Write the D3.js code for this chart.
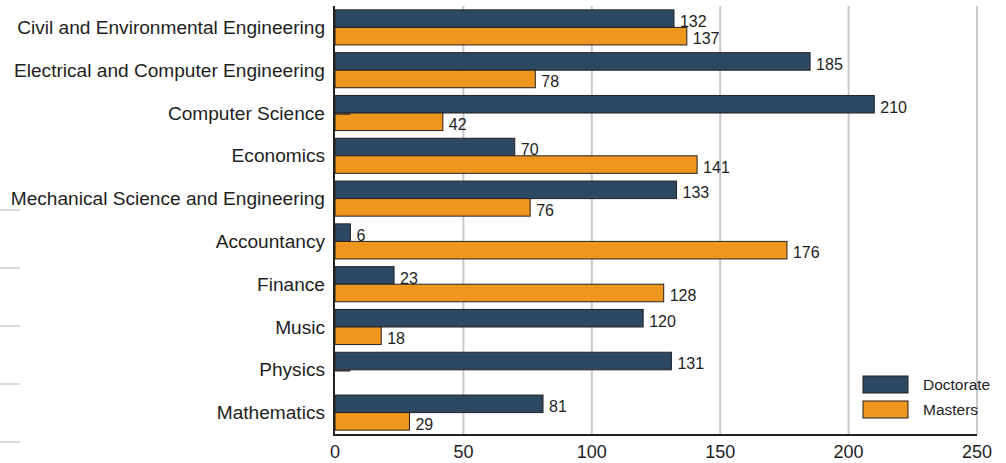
<!DOCTYPE html>
<html>
<head>
<meta charset="utf-8">
<script src="https://cdn.jsdelivr.net/npm/d3@7/dist/d3.min.js"></script>
<style>
  html, body { margin: 0; padding: 0; background: #fff; }
  svg { display: block; font-family: "Liberation Sans", Arial, sans-serif; }
</style>
</head>
<body>
<svg id="chart" width="1006" height="463"></svg>
<script>
const categories = [
  "Civil and Environmental Engineering",
  "Electrical and Computer Engineering",
  "Computer Science",
  "Economics",
  "Mechanical Science and Engineering",
  "Accountancy",
  "Finance",
  "Music",
  "Physics",
  "Mathematics"
];
const doctorate = [132, 185, 210, 70, 133, 6, 23, 120, 131, 81];
const masters   = [137, 78, 42, 141, 76, 176, 128, 18, 0, 29];
const seriesNames = ["Doctorate", "Masters"];
const xTicks = [0, 50, 100, 150, 200, 250];
// stray short strokes visible in the reference (category, length in data units)
const strayCats = ["Computer Science", "Physics"];
const strayLen = 6;

(function () {
const colors = ["#2d4862", "#ef961f"];
const pLeft = 335, pRight = 977, pTop = 6, pBottom = 434;

const svg = d3.select("#chart");

const x = d3.scaleLinear().domain([0, 250]).range([pLeft, pRight]);
const y = d3.scaleBand().domain(categories).range([pTop, pBottom])
  .paddingInner(0.18).paddingOuter(0.09);
const sub = d3.scaleBand().domain(seriesNames).range([0, y.bandwidth()]);

// faint stray lines at far left
const faint = [0, 1, 2, 3, 4];
svg.append("g").selectAll("line").data(faint).join("line")
  .attr("x1", 0).attr("x2", 20)
  .attr("y1", d => 210 + d * 58).attr("y2", d => 210 + d * 58)
  .attr("stroke", "#cfcfcf").attr("stroke-width", 1.5);

// grid
svg.append("g").selectAll("line").data(xTicks.filter(t => t > 0)).join("line")
  .attr("x1", d => x(d)).attr("x2", d => x(d))
  .attr("y1", pTop).attr("y2", pBottom)
  .attr("stroke", "#c9c9cc").attr("stroke-width", 2);

// bars
const rows = categories.map((c, i) => ({ c, vals: [doctorate[i], masters[i]] }));
const g = svg.append("g");
rows.forEach(r => {
  r.vals.forEach((v, k) => {
    if (v <= 0) return;
    const yy = y(r.c) + sub(seriesNames[k]);
    g.append("rect")
      .attr("x", x(0)).attr("y", yy)
      .attr("width", x(v) - x(0)).attr("height", sub.bandwidth())
      .attr("fill", colors[k]).attr("stroke", "#222").attr("stroke-width", 1);
    g.append("text")
      .attr("x", x(v) + 6).attr("y", yy + sub.bandwidth() - 0.5)
      .attr("font-size", "16px").attr("fill", "#1e1e1e")
      .text(v);
  });
});

// stray strokes
svg.append("g").selectAll("line").data(strayCats).join("line")
  .attr("x1", x(0)).attr("x2", x(strayLen))
  .attr("y1", d => y(d) + sub.bandwidth() + 1).attr("y2", d => y(d) + sub.bandwidth() + 1)
  .attr("stroke", "#333").attr("stroke-width", 1.5);

// category labels
svg.append("g").selectAll("text").data(categories).join("text")
  .attr("x", 325).attr("y", d => y(d) + y.bandwidth() / 2)
  .attr("dy", "0.35em").attr("text-anchor", "end")
  .attr("font-size", "19.1px").attr("fill", "#1e1e1e")
  .text(d => d);

// axes lines
svg.append("line").attr("x1", pLeft - 1).attr("x2", pLeft - 1)
  .attr("y1", pTop).attr("y2", pBottom + 2)
  .attr("stroke", "#222").attr("stroke-width", 2);
svg.append("line").attr("x1", pLeft - 2).attr("x2", pRight)
  .attr("y1", pBottom + 1).attr("y2", pBottom + 1)
  .attr("stroke", "#222").attr("stroke-width", 2);

// tick labels
svg.append("g").selectAll("text").data(xTicks).join("text")
  .attr("x", d => x(d)).attr("y", 452).attr("dy", "0.35em")
  .attr("text-anchor", "middle").attr("font-size", "18px").attr("fill", "#1e1e1e")
  .text(d => d);

// legend
const lg = svg.append("g");
seriesNames.forEach((s, k) => {
  lg.append("rect").attr("x", 863).attr("y", 376 + k * 25)
    .attr("width", 45).attr("height", 17)
    .attr("fill", colors[k]).attr("stroke", "#222").attr("stroke-width", 1);
  lg.append("text").attr("x", 923).attr("y", 384.5 + k * 25).attr("dy", "0.35em")
    .attr("font-size", "15.5px").attr("fill", "#1e1e1e").text(s);
});
})();
</script>
</body>
</html>
